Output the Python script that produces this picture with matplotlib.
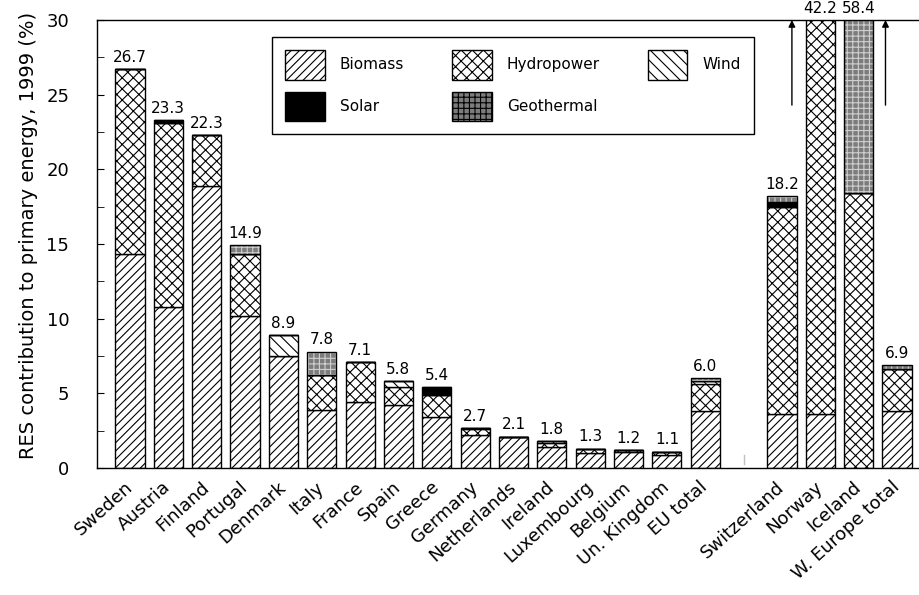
import matplotlib
matplotlib.use('Agg')
from matplotlib import pyplot as plt
from matplotlib.patches import Patch
from matplotlib.ticker import MultipleLocator
import numpy as np

plt.rcParams['font.family'] = ['DejaVu Sans']
plt.rcParams['hatch.linewidth'] = 0.8

countries = ['Sweden', 'Austria', 'Finland', 'Portugal', 'Denmark', 'Italy',
             'France', 'Spain', 'Greece', 'Germany', 'Netherlands', 'Ireland',
             'Luxembourg', 'Belgium', 'Un. Kingdom', 'EU total',
             'Switzerland', 'Norway', 'Iceland', 'W. Europe total']

# share of primary energy by source, 1999 (%)
biomass = [14.3, 10.8, 18.9, 10.2, 7.5, 3.9, 4.4, 4.2, 3.4, 2.2, 2.1, 1.4,
           1.0, 1.1, 0.9, 3.8, 3.6, 3.6, 0.0, 3.8]
hydro = [12.4, 12.3, 3.4, 4.1, 0.0, 2.3, 2.7, 1.2, 1.5, 0.4, 0.0, 0.3,
         0.3, 0.1, 0.2, 1.8, 13.9, 38.6, 18.4, 2.8]
wind = [0.0, 0.0, 0.0, 0.0, 1.4, 0.0, 0.0, 0.4, 0.0, 0.1, 0.0, 0.1,
        0.0, 0.0, 0.0, 0.2, 0.0, 0.0, 0.0, 0.0]
solar = [0.0, 0.2, 0.0, 0.0, 0.0, 0.0, 0.0, 0.0, 0.5, 0.0, 0.0, 0.0,
         0.0, 0.0, 0.0, 0.0, 0.3, 0.0, 0.0, 0.0]
geothermal = [0.0, 0.0, 0.0, 0.6, 0.0, 1.6, 0.0, 0.0, 0.0, 0.0, 0.0, 0.0,
              0.0, 0.0, 0.0, 0.2, 0.4, 0.0, 40.0, 0.3]
totals = [26.7, 23.3, 22.3, 14.9, 8.9, 7.8, 7.1, 5.8, 5.4, 2.7, 2.1, 1.8,
          1.3, 1.2, 1.1, 6.0, 18.2, 42.2, 58.4, 6.9]

ymax = 30

# EU members first, then a gap before the non-EU group
x = np.array(list(range(16)) + list(range(17, 21)), dtype=float)
width = 0.76

GEO_FACE = '#7c7c7c'
GEO_DOTS = '#cfcfcf'

fig = plt.figure(figsize=(9.2, 5.95), dpi=100)
ax = fig.add_axes([97/920, 1 - 468/595, 823/920, 448/595])

bottom = np.zeros(len(x))
styles = [
    (biomass, dict(facecolor='white', hatch='////')),
    (hydro, dict(facecolor='white', hatch='xxx')),
    (wind, dict(facecolor='white', hatch='\\\\\\')),
    (solar, dict(facecolor='black', hatch=None)),
]
for vals, st in styles:
    vals = np.array(vals)
    ax.bar(x, vals, width, bottom=bottom, edgecolor='black', linewidth=1.0, **st)
    bottom += vals

geo = np.array(geothermal)
ax.bar(x, geo, width, bottom=bottom, facecolor=GEO_FACE, edgecolor=GEO_DOTS,
       hatch='+++', linewidth=0)
ax.bar(x, geo, width, bottom=bottom, fill=False, edgecolor='black', linewidth=1.0)

# totals on top of each bar; off-scale ones sit above the frame
for xi, tot in zip(x, totals):
    ax.annotate(f'{tot:.1f}', (xi, min(tot, ymax)), xytext=(0, 3),
                textcoords='offset points', ha='center', va='bottom',
                fontsize=11, annotation_clip=False)

# arrows flagging Norway and Iceland as running off the scale
for xi in (x[17] - 0.74, x[18] + 0.7):
    ax.annotate('', xy=(xi, ymax), xytext=(xi, 24.3),
                arrowprops=dict(arrowstyle='-|>', color='black', lw=1.0,
                                shrinkA=0, shrinkB=0, mutation_scale=10),
                annotation_clip=False)

ax.plot([16, 16], [0.3, 0.9], color='#c0c0c0', lw=1)

ax.set_xlim(-0.86, 20.6)
ax.set_ylim(0, ymax)
ax.yaxis.set_major_locator(MultipleLocator(5))
ax.yaxis.set_minor_locator(MultipleLocator(2.5))
ax.tick_params(axis='y', which='both', direction='in', length=5, labelsize=13, pad=20)
ax.tick_params(axis='x', length=0, pad=12)
ax.set_xticks(x)
ax.set_xticklabels(countries, rotation=42, ha='right', va='center',
                   rotation_mode='anchor', fontsize=13)
ax.spines['right'].set_visible(False)
for s in ('left', 'top', 'bottom'):
    ax.spines[s].set_linewidth(1.0)
ax.set_ylabel('RES contribution to primary energy, 1999 (%)', fontsize=14)
ax.yaxis.set_label_coords(-0.072, 0.52)

handles = [
    Patch(facecolor='white', edgecolor='black', hatch='////', label='Biomass'),
    Patch(facecolor='black', edgecolor='black', label='Solar'),
    Patch(facecolor='white', edgecolor='black', hatch='xxx', label='Hydropower'),
    Patch(facecolor=GEO_FACE, edgecolor='black', hatch='+++', label='Geothermal'),
    Patch(facecolor='white', edgecolor='black', hatch='\\\\\\', label='Wind'),
]
leg = ax.legend(handles=handles, ncol=3, loc='upper left',
                bbox_to_anchor=(0.2126, 0.962, 0.5857, 0), mode='expand',
                borderaxespad=0, fontsize=11, handlelength=2.6, handleheight=2.6,
                handletextpad=1.0, labelspacing=0.8, borderpad=0.85,
                fancybox=False, edgecolor='black', framealpha=1)
leg.get_frame().set_linewidth(1.0)

fig.savefig('out.png', dpi=100)
